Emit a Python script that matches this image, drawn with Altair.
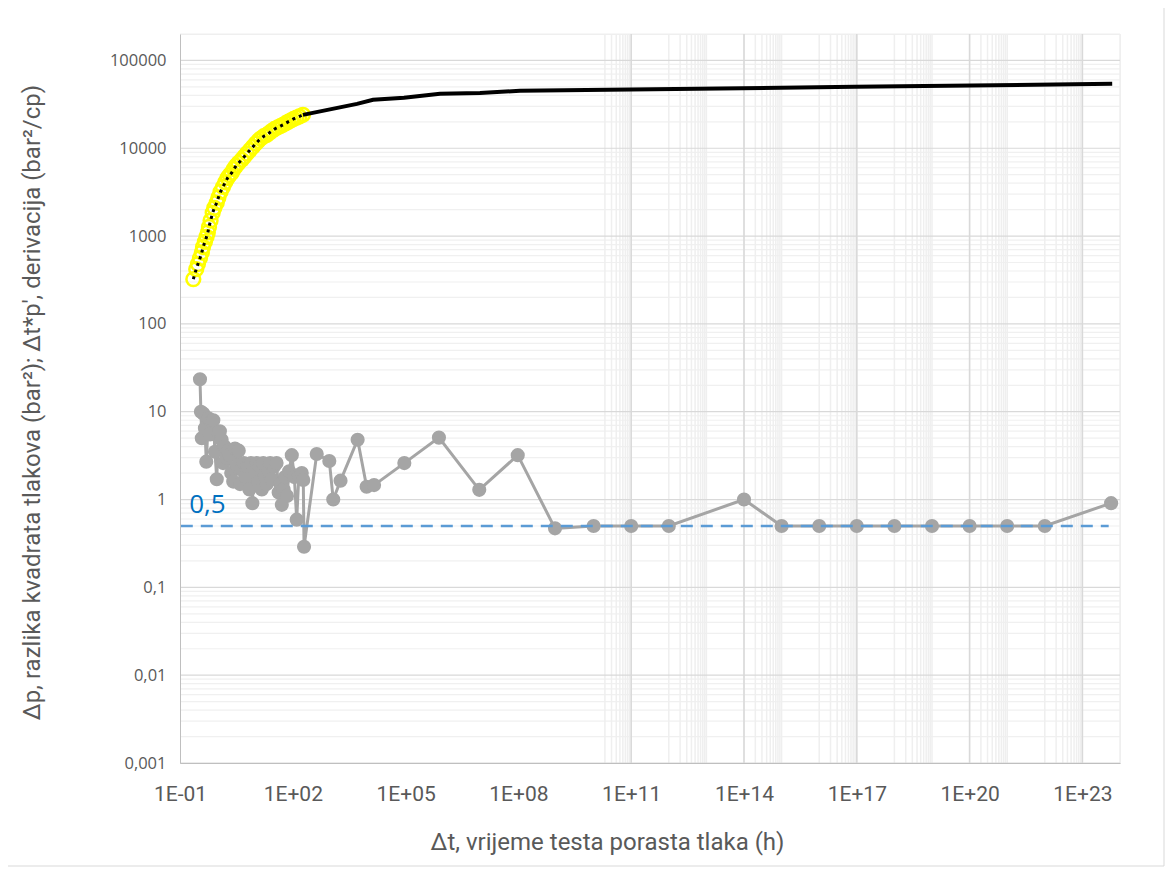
import altair as alt
import pandas as pd

# ---------------- data ----------------
# Δp (yellow open circles, black dotted line through them)
dp_t = [0.226, 0.27, 0.30, 0.34, 0.38, 0.41, 0.46, 0.51, 0.55, 0.59, 0.65, 0.74,
        0.82, 0.95, 1.05, 1.2, 1.39, 1.6, 1.85, 2.1, 2.37, 2.7, 3.1, 3.6, 4.38,
        5.1, 6.0, 7.2, 8.7, 10.3, 12, 14, 17, 20.2, 24, 28, 33, 40, 47, 55, 65,
        77, 90, 105, 125, 150, 186]
dp_v = [323, 420, 480, 560, 650, 750, 860, 980, 1100, 1270, 1500, 1840,
        2100, 2400, 2750, 3200, 3630, 4100, 4600, 4950, 5250, 5800, 6300, 6800, 7380,
        8000, 8700, 9500, 10400, 11300, 12100, 12900, 13700, 14200, 15000, 15800, 16600,
        17300, 17900, 18500, 19300, 20100, 20800, 21600, 22300, 23000, 24000]

# continuation of the Δp curve (solid black)
ext_t = [186, 5100, 13600, 90600, 822000, 9.5e6, 1.1e8, 8.9e16, 6.2e23]
ext_v = [24000, 32000, 35600, 37500, 41700, 42700, 45100, 50000, 54100]

# Δt*p' derivative (grey)
der_t = [0.34, 0.36, 0.38, 0.42, 0.46, 0.50, 0.57, 0.63, 0.70, 0.77, 0.85, 0.95,
         1.05, 1.15, 1.28, 1.4, 1.55, 1.74, 1.9, 2.1, 2.3, 2.6, 2.9, 3.3, 3.65, 3.95,
         4.4, 5.0, 5.6, 6.3, 7.0, 7.7, 8.4, 9.2, 10, 11, 12.3, 13.4, 15, 16.4, 18,
         20.2, 22, 25, 28, 32, 37, 42, 47, 51, 57, 62, 70, 80, 94, 110, 127, 145,
         173, 190, 199, 433, 935, 1190, 1860, 5300, 9200, 14500, 92500, 7.7e5,
         9.1e6, 9.6e7, 9.4e8, 1e10, 1e11, 1e12, 1e14, 1e15, 1e16, 1e17, 1e18,
         1e19, 1e20, 1e21, 1e22, 5.8e23]
der_v = [23.4, 10, 5.0, 9.5, 6.5, 2.7, 8.4, 5.5, 7.8, 8.0, 3.5, 1.7,
         5.8, 6.0, 4.8, 2.6, 4.0, 3.0, 3.6, 3.2, 2.0, 1.6, 3.8, 2.4, 3.6, 1.5,
         2.2, 2.6, 1.8, 2.4, 1.3, 2.6, 0.91, 2.2, 1.9, 2.6, 1.6, 2.4, 1.3, 2.6, 1.9,
         1.5, 2.2, 2.6, 1.7, 2.4, 2.6, 1.2, 1.5, 0.87, 1.3, 1.8, 1.1, 2.1, 3.2, 1.8, 0.59, 1.9,
         2.0, 1.67, 0.29, 3.3, 2.75, 1.0, 1.64, 4.8, 1.4, 1.46, 2.6, 5.07,
         1.29, 3.2, 0.47, 0.5, 0.5, 0.5, 1.0, 0.5, 0.5, 0.5, 0.5,
         0.5, 0.5, 0.5, 0.5, 0.91]

# reference level 0.5 (blue dashed)
ref_t = [0.105, 5.0e23]
ref_v = [0.5, 0.5]
ref_label = "0,5"

# axes
x_ticks = [0.1, 1e2, 1e5, 1e8, 1e11, 1e14, 1e17, 1e20, 1e23]
y_ticks = [1e-3, 1e-2, 1e-1, 1, 10, 100, 1000, 10000, 100000]
x_domain = [0.1, 1e24]
y_domain = [0.001, 2e5]

y_minor = [k * 10.0 ** d for d in range(-3, 6) for k in range(2, 10) if k * 10.0 ** d <= 2e5]
x_major_grid = [1e11, 1e14, 1e17, 1e20, 1e23]
x_minor_grid = sorted(set([k * 10.0 ** d for d in range(10, 23, 2) for k in range(2, 10)]
                          + [10.0 ** d for d in range(11, 24)] + [1e24]))

x_title = "\u0394t, vrijeme testa porasta tlaka (h)"
y_title = "\u0394p, razlika kvadrata tlakova (bar\u00b2); \u0394t*p', derivacija (bar\u00b2/cp)"

# ---------------- chart ----------------
FONT_T = "Roboto, sans-serif"
FONT_Y = "Open Sans, sans-serif"

xs = alt.Scale(type="log", domain=x_domain, nice=False)
ys = alt.Scale(type="log", domain=y_domain, nice=False)

x_label_expr = ("'1E' + (round(log(datum.value)/LN10) < 0 ? '-' : '+') + "
                "(abs(round(log(datum.value)/LN10)) < 10 ? '0' : '') + abs(round(log(datum.value)/LN10))")
y_label_expr = "datum.value >= 1 ? format(datum.value, 'd') : replace(format(datum.value, '~g'), '.', ',')"

x_axis = alt.Axis(values=x_ticks, labelExpr=x_label_expr, title=x_title, grid=False, ticks=False,
                  labelFont=FONT_T, labelFontSize=21, labelColor="#595959", labelPadding=20,
                  domainColor="#bfbfbf", titleFont=FONT_T, titleFontSize=24, titleFontWeight="normal",
                  titleColor="#595959", titleX=427, titleY=79, titleBaseline="middle",
                  titleAlign="center", titleAnchor="start", labelFlush=False, labelOverlap=False,
                  zindex=1)
y_axis = alt.Axis(values=y_ticks, labelExpr=y_label_expr, title=y_title, grid=False, ticks=False,
                  labelFont=FONT_Y, labelFontSize=16.5, labelColor="#595959", labelPadding=14,
                  domainColor="#bfbfbf", titleFont=FONT_T, titleFontSize=24, titleFontWeight="normal",
                  titleColor="#595959", titleX=-148, titleY=368, titleBaseline="middle",
                  titleAlign="center", titleAnchor="start", titleAngle=-90,
                  labelFlush=False, labelOverlap=False, zindex=1)


def X(f):
    return alt.X(f, type="quantitative", scale=xs, axis=x_axis)


def Y(f):
    return alt.Y(f, type="quantitative", scale=ys, axis=y_axis)


frame = alt.Chart(pd.DataFrame({"a": [0]})).mark_rect(
    fill="white", fillOpacity=0, stroke="#d9d9d9", strokeWidth=1
).encode(x=alt.value(-173), x2=alt.value(984), y=alt.value(-27), y2=alt.value(832))

hmin = alt.Chart(pd.DataFrame({"y": y_minor})).mark_rule(color="#f0f0f0", strokeWidth=1.2).encode(y=Y("y"))
hmaj = alt.Chart(pd.DataFrame({"y": y_ticks})).mark_rule(color="#d9d9d9", strokeWidth=1.2).encode(y=Y("y"))
vmin = alt.Chart(pd.DataFrame({"x": x_minor_grid})).mark_rule(color="#efefef", strokeWidth=1.5).encode(x=X("x"))
vmaj = alt.Chart(pd.DataFrame({"x": x_major_grid})).mark_rule(color="#d9d9d9", strokeWidth=1.5).encode(x=X("x"))

der_df = pd.DataFrame({"t": der_t, "v": der_v, "i": list(range(len(der_t)))})
der_line = alt.Chart(der_df).mark_line(color="#a5a5a5", strokeWidth=3).encode(
    x=X("t"), y=Y("v"), order="i:Q")
der_pts = alt.Chart(der_df).mark_circle(color="#a5a5a5", size=200, opacity=1).encode(x=X("t"), y=Y("v"))

ref_df = pd.DataFrame({"t": ref_t, "v": ref_v})
ref_line = alt.Chart(ref_df).mark_line(color="#5b9bd5", strokeWidth=2.5, strokeDash=[12, 8]).encode(
    x=X("t"), y=Y("v"))
ref_text = alt.Chart(pd.DataFrame({"t": [0.175], "v": [0.70], "s": [ref_label]})).mark_text(
    color="#0070c0", font=FONT_Y, fontSize=26, align="left", baseline="alphabetic").encode(
    x=X("t"), y=Y("v"), text="s:N")

dp_df = pd.DataFrame({"t": dp_t, "v": dp_v})
dp_pts = alt.Chart(dp_df).mark_point(shape="circle", size=190, filled=False, color="#ffff00",
                                     strokeWidth=2.5, opacity=1).encode(x=X("t"), y=Y("v"))
dp_line = alt.Chart(dp_df).mark_line(color="black", strokeWidth=3, strokeDash=[3, 4]).encode(
    x=X("t"), y=Y("v"))
ext_line = alt.Chart(pd.DataFrame({"t": ext_t, "v": ext_v})).mark_line(
    color="black", strokeWidth=4).encode(x=X("t"), y=Y("v"))

chart = alt.layer(
    frame, hmin, vmin, hmaj, vmaj, der_line, der_pts, ref_line, ref_text, dp_pts, dp_line, ext_line
).resolve_scale(x="shared", y="shared").properties(
    width=940, height=729,
    padding={"left": 172, "top": 26, "right": 45, "bottom": 104},
    autosize=alt.AutoSizeParams(type="none"),
).configure_view(stroke="#eeeeee", strokeWidth=1)

chart.save("out.html", embed_options={"renderer": "svg", "actions": False})
